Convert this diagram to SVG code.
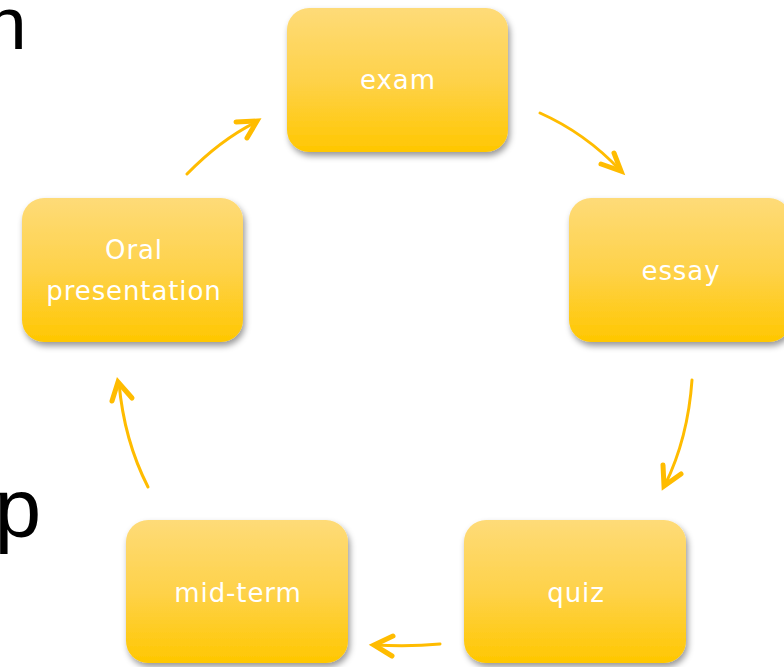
<svg xmlns="http://www.w3.org/2000/svg" width="784" height="667" viewBox="0 0 784 667">
<defs>
<linearGradient id="g" x1="0" y1="0" x2="0" y2="1">
<stop offset="0" stop-color="#FEDB78"/>
<stop offset="0.5" stop-color="#FED24A"/>
<stop offset="1" stop-color="#FFC700"/>
</linearGradient>
<filter id="sh" x="-10%" y="-10%" width="125%" height="130%">
<feDropShadow dx="2" dy="4" stdDeviation="3" flood-color="#000" flood-opacity="0.4"/>
</filter>
</defs>
<style>
.box{fill:url(#g);filter:url(#sh)}
.lbl{font-family:"DejaVu Sans",Verdana,sans-serif;font-size:26px;fill:#fff;text-anchor:middle;letter-spacing:0.9px}
.big{font-family:"Liberation Sans",Arial,sans-serif;fill:#000}
.ln{fill:none;stroke:#FFBC00;stroke-width:3;stroke-linecap:round}
.hd{fill:none;stroke:#FFBC00;stroke-width:5;stroke-linecap:round;stroke-linejoin:miter}
</style>
<rect width="784" height="667" fill="#fff"/>
<text class="big" x="-15" y="49" font-size="75">n</text>
<text class="big" x="-5.5" y="537" font-size="84">p</text>
<g id="connectors">
<path class="ln" d="M540,113 Q585,133 620,170"/>
<polyline class="hd" points="614,153 621,171 601,164"/>
<path class="ln" d="M692,380 Q688,438 665,485"/>
<polyline class="hd" points="663,465 664,486 681,474"/>
<path class="ln" d="M440,644 Q410,647 374,645"/>
<polyline class="hd" points="393,636 374,645 392,656"/>
<path class="ln" d="M148,487 Q124,440 119,383"/>
<polyline class="hd" points="112,401 118,382 132,398"/>
<path class="ln" d="M187,174 Q220,140 256,122"/>
<polyline class="hd" points="236,122 257,121 247,138"/>
</g>
<g id="exam">
<rect class="box" x="287" y="8" width="221" height="144" rx="22"/>
<text class="lbl" x="398" y="89">exam</text>
</g>
<g id="essay">
<rect class="box" x="569" y="198" width="222" height="144" rx="22"/>
<text class="lbl" x="681" y="280">essay</text>
</g>
<g id="quiz">
<rect class="box" x="464" y="520" width="222" height="143" rx="22"/>
<text class="lbl" x="576" y="602">quiz</text>
</g>
<g id="midterm">
<rect class="box" x="126" y="520" width="222" height="143" rx="22"/>
<text class="lbl" x="238" y="602">mid-term</text>
</g>
<g id="oral">
<rect class="box" x="22" y="198" width="221" height="144" rx="22"/>
<text class="lbl" x="134" y="259">Oral</text>
<text class="lbl" x="134" y="300">presentation</text>
</g>
</svg>
